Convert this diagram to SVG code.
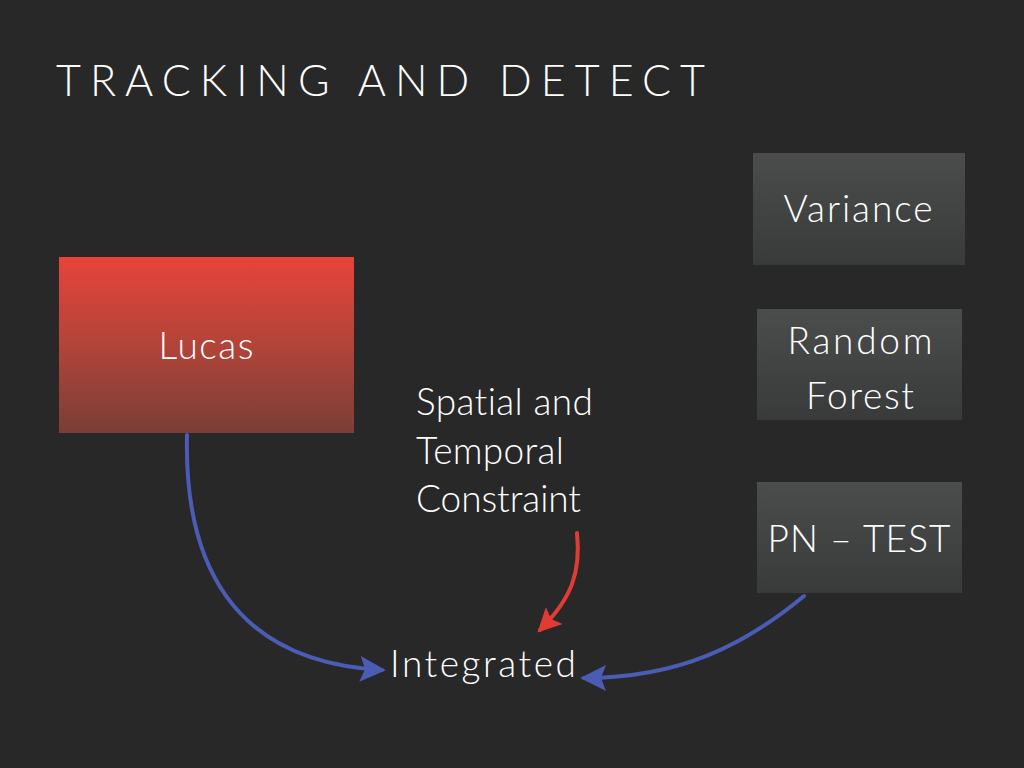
<svg xmlns="http://www.w3.org/2000/svg" width="1024" height="768" viewBox="0 0 1024 768">
  <defs>
    <linearGradient id="redFill" x1="0" y1="0" x2="0" y2="1">
      <stop offset="0" stop-color="#e8433a"/>
      <stop offset="0.5" stop-color="#b24439"/>
      <stop offset="1" stop-color="#7a3e37"/>
    </linearGradient>
    <linearGradient id="grayFill" x1="0" y1="0" x2="0" y2="1">
      <stop offset="0" stop-color="#4b4d4d"/>
      <stop offset="1" stop-color="#393b3b"/>
    </linearGradient>
    <marker id="headBlue" viewBox="0 0 20 20" refX="17" refY="10" markerWidth="26" markerHeight="26" markerUnits="userSpaceOnUse" orient="auto">
      <path d="M0,0 L20,10 L0,20 L4,10 Z" fill="#4a5cb4"/>
    </marker>
    <marker id="headRed" viewBox="0 0 20 20" refX="17" refY="10" markerWidth="24" markerHeight="24" markerUnits="userSpaceOnUse" orient="auto">
      <path d="M0,0 L20,10 L0,20 L4,10 Z" fill="#e03c35"/>
    </marker>
  </defs>
  <style>
    text { font-family: Lato, "Noto Sans", "Liberation Sans", sans-serif; font-weight: 300; fill: #ffffff; font-variant-ligatures: none; }
    .title { font-size: 43px; }
    .label { font-size: 37px; }
    .mid { text-anchor: middle; }
    .grayBox { fill: url(#grayFill); }
    .edge { fill: none; stroke-width: 4; stroke-linecap: round; }
    .blue { stroke: #4a5cb4; }
    .red { stroke: #e03c35; }
  </style>

  <rect width="1024" height="768" fill="#282828"/>

  <text class="title" x="56" y="96" textLength="649" lengthAdjust="spacing">TRACKING AND DETECT</text>

  <g id="lucas">
    <rect x="59" y="257" width="295" height="176" fill="url(#redFill)"/>
    <text class="label mid" x="206" y="359" textLength="95" lengthAdjust="spacing">Lucas</text>
  </g>

  <g id="variance">
    <rect class="grayBox" x="753" y="153" width="212" height="112"/>
    <text class="label mid" x="858" y="222" textLength="149" lengthAdjust="spacing">Variance</text>
  </g>

  <g id="random-forest">
    <rect class="grayBox" x="757" y="309" width="205" height="111"/>
    <text class="label mid" x="860" y="354" textLength="145" lengthAdjust="spacing">Random</text>
    <text class="label mid" x="860" y="409" textLength="108" lengthAdjust="spacing">Forest</text>
  </g>

  <g id="pn-test">
    <rect class="grayBox" x="757" y="482" width="205" height="111"/>
    <text class="label mid" x="859" y="552" textLength="183" lengthAdjust="spacing">PN – TEST</text>
  </g>

  <g id="constraint">
    <text class="label" x="416" y="415" textLength="177" lengthAdjust="spacing">Spatial and</text>
    <text class="label" x="416" y="464" textLength="148" lengthAdjust="spacing">Temporal</text>
    <text class="label" x="416" y="512" textLength="165" lengthAdjust="spacing">Constraint</text>
  </g>

  <g id="integrated">
    <text class="label" x="390" y="677" textLength="186" lengthAdjust="spacing">Integrated</text>
  </g>

  <g id="connectors">
    <path class="edge blue" d="M187,435 C184,560 230,662 382,670" marker-end="url(#headBlue)"/>
    <path class="edge red" d="M577,533 C581,572 572,598 540,630" marker-end="url(#headRed)"/>
    <path class="edge blue" d="M804,596 C745,645 680,678 584,678" marker-end="url(#headBlue)"/>
  </g>
</svg>
